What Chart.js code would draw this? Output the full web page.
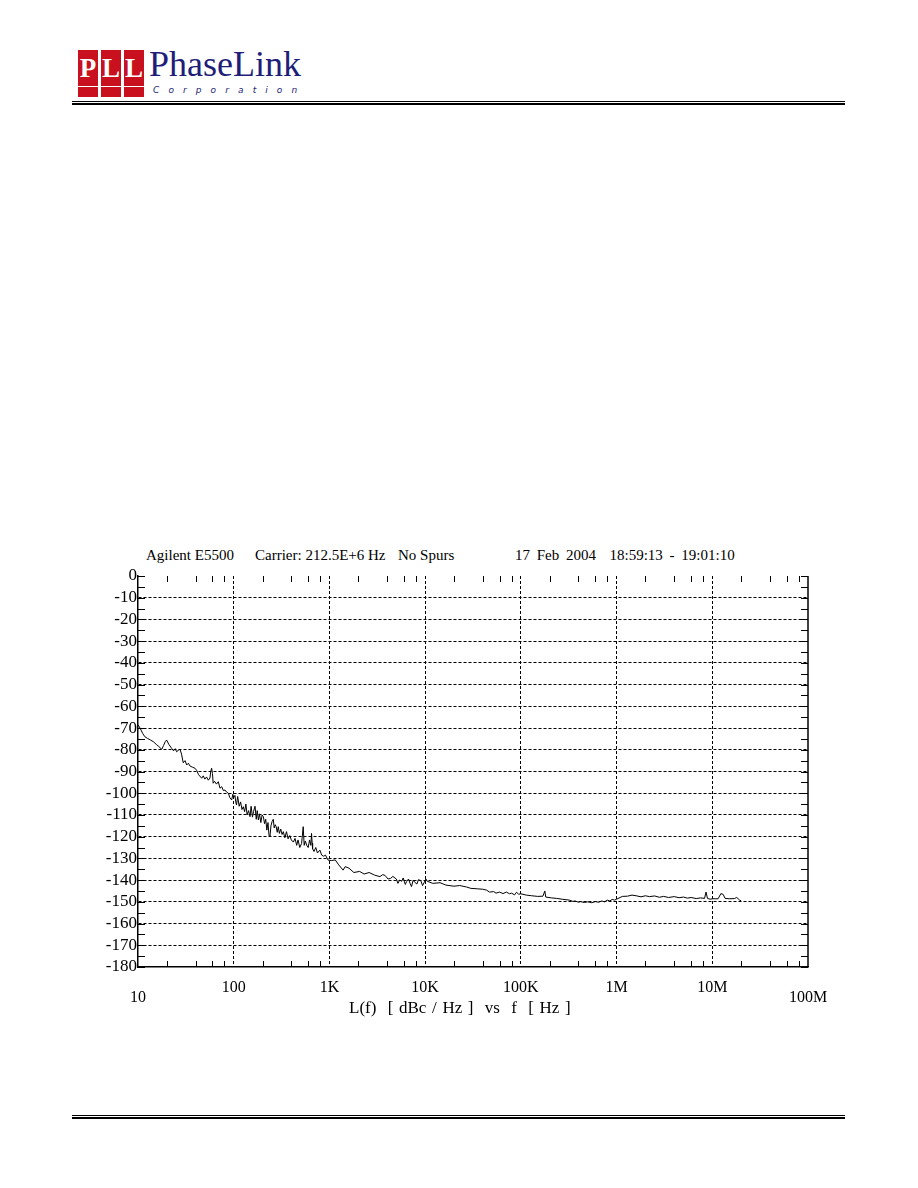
<!DOCTYPE html>
<html>
<head>
<meta charset="utf-8">
<title>Phase noise</title>
<script src="https://cdn.jsdelivr.net/npm/chart.js@4.4.1/dist/chart.umd.min.js"></script>
<style>
  body { margin: 0; width: 918px; height: 1188px; background: #fff; position: relative; overflow: hidden; font-family: 'Liberation Serif', serif; color: #000; }
  .box { position: absolute; top: 50px; width: 20px; height: 47px; background: #c8101e; color: #fff; font: bold 27px 'Liberation Serif', serif; text-align: center; line-height: 36px; }
  .box::after { content: ''; position: absolute; left: 0; right: 0; top: 36px; height: 1px; background: #fff; }
  .brand { position: absolute; left: 149px; top: 46px; font: 36px 'Liberation Serif', serif; color: #1e1e78; line-height: 36px; }
  .corp { position: absolute; left: 153px; top: 85px; font: italic 9px 'DejaVu Sans', sans-serif; letter-spacing: 9.1px; color: #1e1e78; line-height: 10px; }
  .rule { position: absolute; left: 72px; width: 773px; background: #000; }
  .hdr { position: absolute; top: 548px; font-size: 15px; line-height: 15px; white-space: pre; }
  #wrap { position: absolute; left: 0; top: 560px; width: 918px; height: 460px; }
  #xtitle { position: absolute; left: 349px; top: 999px; font-size: 17px; line-height: 17px; white-space: pre; word-spacing: 1.4px; }
</style>
</head>
<body>
<!-- logo -->
<div class="box" style="left:78px">P</div>
<div class="box" style="left:101px">L</div>
<div class="box" style="left:124px">L</div>
<div class="brand">PhaseLink</div>
<div class="corp">Corporation</div>
<div class="rule" style="top:101px;height:1px"></div>
<div class="rule" style="top:103px;height:2px"></div>

<!-- plot header -->
<div class="hdr" style="left:146px">Agilent E5500</div>
<div class="hdr" style="left:255px">Carrier: 212.5E+6 Hz</div>
<div class="hdr" style="left:398px">No Spurs</div>
<div class="hdr" style="left:515px;word-spacing:3px">17 Feb 2004  18:59:13 - 19:01:10</div>

<div id="wrap"><canvas id="chart" width="918" height="460"></canvas></div>
<div id="xtitle">L(f)  [ dBc / Hz ]  vs  f  [ Hz ]</div>

<div class="rule" style="top:1115px;height:1px"></div>
<div class="rule" style="top:1117px;height:2px"></div>

<script>
// axis ticks
const X_TICKS = [10, 100, 1e3, 1e4, 1e5, 1e6, 1e7, 1e8];
const X_TICK_LABELS = ['10', '100', '1K', '10K', '100K', '1M', '10M', '100M'];
const Y_TICKS = [0, -10, -20, -30, -40, -50, -60, -70, -80, -90, -100, -110, -120, -130, -140, -150, -160, -170, -180];

// offset frequency [Hz]
const FREQ_HZ = [
  10, 10.5, 11.2, 11.8, 12.6, 13.5, 14.5, 15.5, 16.5, 17.7, 18.5, 19.3, 19.9, 21, 22.5, 23.5, 24.5, 25.3, 26.5, 27.5,
  28.5, 29.7, 31, 32.3, 33.6, 35, 37, 39.4, 41, 43, 46.3, 48, 50, 52, 54.3, 56.5, 57.5, 58.8, 60, 61,
  63, 66, 69, 71.9, 75, 78, 81, 84.4, 88, 91, 95.2, 98, 100, 103, 105, 107, 110, 114, 118, 122,
  126, 130, 134, 138, 143, 148, 152, 157, 161, 167, 172, 176, 181, 186, 192, 198, 204, 210, 216, 222,
  228, 234, 239, 245, 252, 259, 265, 272, 278, 285, 292, 300, 310, 320, 330, 342, 356, 370, 385, 400,
  420, 437, 455, 470, 490, 512, 532, 545, 560, 578, 600, 620, 640, 650, 660, 667, 690, 720, 750, 795,
  830, 870, 910, 968, 1050, 1150, 1250, 1390, 1460, 1600, 1800, 2070, 2300, 2600, 2960, 3370, 3600, 3800, 4100, 4360,
  4600, 5000, 5200, 5400, 5700, 5900, 6200, 6400, 6700, 6960, 7200, 7500, 7800, 8200, 8500, 9000, 9400, 9800, 10200, 10500,
  12000, 14300, 16500, 20000, 23000, 27200, 30000, 35000, 40000, 43800, 47000, 52000, 55000, 60000, 65000, 70700, 76000, 80000, 86000, 90000,
  95000, 100000, 114000, 130000, 150000, 170000, 178000, 182000, 210000, 235000, 270000, 320000, 350000, 370000, 400000, 420000, 460000, 500000, 550000, 600000,
  650000, 700000, 750000, 800000, 850000, 900000, 950000, 1000000, 1150000, 1300000, 1450000, 1600000, 1800000, 2000000, 2200000, 2500000, 2800000, 3100000, 3500000, 4000000,
  4500000, 5000000, 5500000, 6000000, 6800000, 7500000, 8300000, 8600000, 8900000, 9500000, 10000000, 11500000, 12300000, 13000000, 13600000, 15000000, 17000000, 18000000, 19300000, 20000000
];
// L(f) [dBc/Hz]
const NOISE_DBC = [
  -68.5, -70, -72.5, -74, -74.8, -75.5, -76.3, -77.5, -78.5, -79.8, -78, -76.2, -75.5, -77.5, -79.4, -80.5, -79.5, -80.9, -80.2, -79.8,
  -82, -86, -85, -87, -86.2, -87.5, -88, -88.5, -89.5, -91.5, -93.1, -92, -93.5, -92.5, -94, -93, -90, -88.5, -91, -95.4,
  -94.5, -95.8, -94.7, -97.7, -97, -98.8, -98.5, -99.5, -100, -102, -103.1, -100.5, -102, -101, -104, -105.4, -101.5, -106, -104, -107.5,
  -106.2, -108.5, -105, -110, -108, -110.8, -106, -111, -108.5, -106, -112, -108, -112.3, -109.5, -113.5, -110, -110.8, -114, -112, -117,
  -113.5, -119.5, -120, -115, -113, -112, -116, -114.5, -115.5, -118, -115.4, -118.5, -116.5, -119, -117.7, -120.5, -117.7, -121, -119.5, -121.5,
  -122.5, -120.8, -124, -121.5, -125, -123.1, -115.4, -124, -122, -123.9, -125, -121.5, -124, -118.5, -123, -125.6, -126.8, -125, -127.5, -126.2,
  -128.5, -129, -128.5, -130.8, -131, -130.7, -133, -135.4, -133.8, -134.5, -136.5, -136, -137.2, -136.5, -137.7, -138.4, -137.5, -137.8, -139.5, -139.2,
  -138.3, -139.5, -141.5, -140, -140.5, -139, -142, -140.7, -139.5, -141.5, -143, -140, -141, -141.8, -139.8, -140.2, -142.5, -141, -139.5, -140.5,
  -141.5, -141.2, -142.3, -142.8, -142.5, -143.2, -143.8, -144, -144.2, -144.6, -145.5, -145.3, -146, -145.5, -146.2, -145.5, -146.3, -146, -146.8, -145.6,
  -146.5, -146.3, -146.9, -147.2, -147.5, -147.4, -145, -147.8, -148.2, -148.4, -148.8, -149.2, -149.8, -149.6, -150.2, -149.9, -150.3, -150, -150.4, -149.9,
  -150.2, -149.6, -150, -149.2, -149.6, -148.9, -149.2, -148.8, -147.5, -147.4, -146.9, -147.2, -147.7, -147.2, -147.6, -147.3, -147.9, -147.5, -148, -147.6,
  -148.1, -147.8, -148.3, -148, -148.5, -148.2, -148.4, -145.5, -148.4, -148.8, -148.6, -148.6, -146.2, -146.6, -148.4, -148.6, -148.5, -148, -149.2, -149.5
];

// minor ticks: every 5 dB, and 2/4/6/8 within each decade
const Y_MINOR = [];
for (let v = 0; v >= -180; v -= 5) Y_MINOR.push(v);
const X_MINOR = [];
for (let d = 10; d < 1e8; d *= 10) [2, 4, 6, 8].forEach(m => X_MINOR.push(m * d));

// right-hand frame line and inward minor ticks
const framePlugin = {
  id: 'frame',
  afterDraw(chart) {
    const { ctx, chartArea: { left, right, top, bottom }, scales: { x, y } } = chart;
    ctx.save();
    ctx.strokeStyle = '#000';
    ctx.lineWidth = 1.5;
    ctx.beginPath();
    ctx.moveTo(right, top);
    ctx.lineTo(right, bottom);
    ctx.stroke();
    ctx.lineWidth = 1;
    ctx.beginPath();
    Y_MINOR.forEach(v => {
      const py = Math.round(y.getPixelForValue(v)) + 0.5;
      ctx.moveTo(left, py); ctx.lineTo(left + 7, py);
      ctx.moveTo(right, py); ctx.lineTo(right - 7, py);
    });
    X_MINOR.forEach(v => {
      const px = Math.round(x.getPixelForValue(v)) + 0.5;
      ctx.moveTo(px, bottom); ctx.lineTo(px, bottom - 6);
      ctx.moveTo(px, top); ctx.lineTo(px, top + 6);
    });
    ctx.stroke();
    ctx.restore();
  }
};

const serif = { family: "'Liberation Serif', serif", size: 16 };

new Chart(document.getElementById('chart'), {
  type: 'scatter',
  data: {
    datasets: [{
      data: FREQ_HZ.map((f, i) => ({ x: f, y: NOISE_DBC[i] })),
      showLine: true,
      borderColor: '#000',
      borderWidth: 1,
      pointRadius: 0,
      tension: 0
    }]
  },
  options: {
    responsive: false,
    animation: false,
    devicePixelRatio: 1,
    layout: { padding: { left: 0, top: 16, right: 110, bottom: 0 } },
    plugins: { legend: { display: false }, tooltip: { enabled: false } },
    scales: {
      x: {
        type: 'logarithmic',
        min: 10,
        max: 1e8,
        afterBuildTicks: s => { s.ticks = X_TICKS.map(v => ({ value: v })); },
        afterFit: s => { s.height = 53; },
        ticks: {
          autoSkip: false,
          maxRotation: 0,
          padding: 16,
          color: '#000',
          font: { ...serif, lineHeight: '10px' },
          // first and last labels sit one step lower, as on the analyzer plot
          callback: (v, i) => (i === 0 || i === X_TICKS.length - 1) ? ['', X_TICK_LABELS[i]] : X_TICK_LABELS[i]
        },
        grid: {
          drawTicks: false,
          lineWidth: 1,
          color: c => (c.tick && (c.tick.value === 10 || c.tick.value === 1e8)) ? 'rgba(0,0,0,0)' : '#000'
        },
        border: { display: true, color: '#000', width: 1.5, dash: [3, 2] }
      },
      y: {
        min: -180,
        max: 0,
        afterBuildTicks: s => { s.ticks = Y_TICKS.map(v => ({ value: v })); },
        afterFit: s => { s.width = 138; },
        ticks: { autoSkip: false, padding: 1, color: '#000', font: { ...serif, size: 17 }, callback: v => String(v) },
        grid: {
          drawTicks: false,
          lineWidth: 1,
          color: c => (c.tick && (c.tick.value === 0 || c.tick.value === -180)) ? 'rgba(0,0,0,0)' : '#000'
        },
        border: { display: true, color: '#000', width: 1.5, dash: [3, 2] }
      }
    }
  },
  plugins: [framePlugin]
});
</script>
</body>
</html>
